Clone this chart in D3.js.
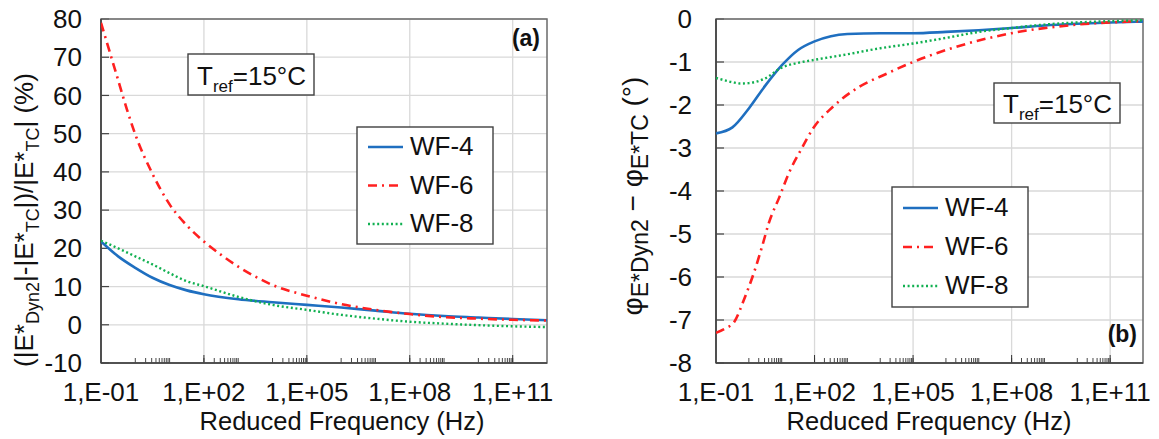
<!DOCTYPE html>
<html><head><meta charset="utf-8">
<script src="https://cdn.jsdelivr.net/npm/d3@7"></script>
<style>
html,body{margin:0;padding:0;background:#fff;}
svg{display:block;font-family:"Liberation Sans",Arial,sans-serif;}
</style></head>
<body>
<svg id="chart" width="1159" height="439"></svg>
<script>
// ---------- data ----------
const seriesNames = ["WF-4", "WF-6", "WF-8"];
const xTickExps = [-1, 2, 5, 8, 11];
const xTickLabels = ["1,E-01", "1,E+02", "1,E+05", "1,E+08", "1,E+11"];
const minorDecades = [0, 2, 4, 6, 8, 10];
const leftYTicks = [-10, 0, 10, 20, 30, 40, 50, 60, 70, 80];
const rightYTicks = [-8, -7, -6, -5, -4, -3, -2, -1, 0];

// (a) modulus difference (%) vs log10 reduced frequency
const magWF4Exp = [-1, -0.5, 0, 0.5, 1, 1.5, 2, 3, 4, 5, 6, 7, 8, 9, 10, 11, 12];
const magWF4 = [21.8, 17.9, 14.9, 12.3, 10.4, 9.0, 8.0, 6.7, 5.9, 5.2, 4.5, 3.7, 2.9, 2.3, 1.9, 1.5, 1.2];
const magWF6Exp = [-1, -0.75, -0.5, -0.25, 0, 0.5, 1, 1.5, 2, 2.5, 3, 3.5, 4, 5, 6, 7, 8, 9, 10, 11, 12];
const magWF6 = [79, 71.5, 64, 56.5, 49.8, 39.5, 31.5, 26.0, 21.8, 18.3, 15.2, 12.6, 10.4, 7.6, 5.4, 3.9, 2.8, 2.0, 1.6, 1.3, 1.1];
const magWF8Exp = [-1, -0.5, 0, 0.5, 1, 1.5, 2, 3, 4, 5, 6, 7, 8, 9, 10, 11, 12];
const magWF8 = [22, 20, 17.9, 15.8, 13.5, 11.4, 10.1, 7.3, 5.2, 3.9, 2.6, 1.6, 0.8, 0.3, -0.1, -0.4, -0.6];

// (b) phase angle difference (deg)
const phWF4Exp = [-1, -0.5, 0, 0.5, 1, 1.5, 2, 2.5, 3, 4, 5, 6, 7, 8, 9, 10, 11, 12];
const phWF4 = [-2.66, -2.52, -2.08, -1.55, -1.08, -0.72, -0.52, -0.40, -0.35, -0.33, -0.33, -0.30, -0.26, -0.21, -0.15, -0.11, -0.08, -0.06];
const phWF6Exp = [-1, -0.7, -0.45, -0.12, 0.15, 0.4, 0.61, 0.92, 1.22, 1.58, 1.95, 2.56, 3.29, 4.2, 5, 6.3, 8, 9.85, 12];
const phWF6 = [-7.30, -7.19, -7.05, -6.47, -5.91, -5.30, -4.74, -4.16, -3.58, -3.05, -2.55, -2.04, -1.61, -1.27, -1.0, -0.65, -0.33, -0.14, -0.05];
const phWF8Exp = [-1, -0.5, -0.25, 0, 0.5, 1, 1.5, 2, 3, 4, 5, 6, 7, 8, 9, 10, 11, 12];
const phWF8 = [-1.37, -1.47, -1.50, -1.49, -1.38, -1.13, -1.02, -0.95, -0.82, -0.68, -0.57, -0.44, -0.30, -0.21, -0.13, -0.08, -0.05, -0.03];

// ---------- styles ----------
const colors = ["#1f6fc0", "#ff2020", "#10b050"];
const dashes = [null, "9,5,2,5", "2,2.6"];
const widths = [2.6, 2.6, 2.4];
const FONT = 26;

const svg = d3.select("#chart");

function zip(ex, v) { return ex.map((e, i) => ({ f: Math.pow(10, e), v: v[i] })); }

function drawPanel(cfg) {
  const g = svg.append("g");
  const x = d3.scaleLog().domain([1e-1, 1e12]).range([cfg.x0, cfg.x1]);
  const y = d3.scaleLinear().domain(cfg.yDomain).range([cfg.y1, cfg.y0]);

  // gridlines
  g.append("g").selectAll("line.h").data(cfg.yTicks).join("line")
    .attr("x1", cfg.x0).attr("x2", cfg.x1)
    .attr("y1", d => y(d)).attr("y2", d => y(d))
    .attr("stroke", "#d9d9d9").attr("stroke-width", 1.3);
  g.append("g").selectAll("line.v").data(xTickExps.slice(1)).join("line")
    .attr("x1", d => x(Math.pow(10, d))).attr("x2", d => x(Math.pow(10, d)))
    .attr("y1", cfg.y0).attr("y2", cfg.y1)
    .attr("stroke", "#d9d9d9").attr("stroke-width", 1.3);

  // minor ticks (inside bottom)
  const minor = [];
  minorDecades.forEach(n => { for (let k = 1; k <= 10; k++) minor.push(k * Math.pow(10, n)); });
  g.append("g").selectAll("line").data(minor).join("line")
    .attr("x1", d => x(d)).attr("x2", d => x(d))
    .attr("y1", cfg.y1).attr("y2", cfg.y1 - 5)
    .attr("stroke", "#333").attr("stroke-width", 0.9);
  g.append("g").selectAll("line").data(xTickExps.slice(1)).join("line")
    .attr("x1", d => x(Math.pow(10, d))).attr("x2", d => x(Math.pow(10, d)))
    .attr("y1", cfg.y1).attr("y2", cfg.y1 - 8)
    .attr("stroke", "#333").attr("stroke-width", 1);
  // y ticks inside left
  g.append("g").selectAll("line").data(cfg.yTicks).join("line")
    .attr("x1", cfg.x0).attr("x2", cfg.x0 + 8)
    .attr("y1", d => y(d)).attr("y2", d => y(d))
    .attr("stroke", "#444").attr("stroke-width", 1.2);

  // frame
  g.append("rect").attr("x", cfg.x0).attr("y", cfg.y0)
    .attr("width", cfg.x1 - cfg.x0).attr("height", cfg.y1 - cfg.y0)
    .attr("fill", "none").attr("stroke", "#6a6a6a").attr("stroke-width", 1.5);
  g.append("line").attr("x1", cfg.x0).attr("x2", cfg.x0).attr("y1", cfg.y0).attr("y2", cfg.y1)
    .attr("stroke", "#404040").attr("stroke-width", 1.6);
  g.append("line").attr("x1", cfg.x0).attr("x2", cfg.x1).attr("y1", cfg.y1).attr("y2", cfg.y1)
    .attr("stroke", "#404040").attr("stroke-width", 1.6);

  // series
  const line = d3.line().x(d => x(d.f)).y(d => y(d.v)).curve(d3.curveMonotoneX);
  const clipId = "clip" + cfg.id;
  svg.append("clipPath").attr("id", clipId).append("rect")
    .attr("x", cfg.x0).attr("y", cfg.y0 - 2).attr("width", cfg.x1 - cfg.x0).attr("height", cfg.y1 - cfg.y0 + 2);
  const sg = g.append("g").attr("clip-path", `url(#${clipId})`);
  cfg.series.forEach((s, i) => {
    sg.append("path").datum(s).attr("d", line)
      .attr("fill", "none").attr("stroke", colors[i]).attr("stroke-width", widths[i])
      .attr("stroke-dasharray", dashes[i]);
  });

  // tick labels
  g.append("g").selectAll("text").data(cfg.yTicks).join("text")
    .attr("x", cfg.yLabelX).attr("y", d => y(d)).attr("dy", "0.35em")
    .attr("text-anchor", "end").attr("font-size", FONT).attr("fill", "#111")
    .text(d => d);
  g.append("g").selectAll("text").data(xTickExps).join("text")
    .attr("x", d => x(Math.pow(10, d))).attr("y", 401)
    .attr("text-anchor", "middle").attr("font-size", FONT).attr("fill", "#111")
    .text((d, i) => xTickLabels[i]);

  // x title
  g.append("text").attr("x", cfg.xTitleX).attr("y", 430)
    .attr("text-anchor", "middle").attr("font-size", 25.5).attr("fill", "#111")
    .text("Reduced Frequency (Hz)");

  // panel label
  g.append("text").attr("x", cfg.labelX).attr("y", cfg.labelY)
    .attr("text-anchor", "end").attr("font-size", 23).attr("font-weight", "bold").attr("fill", "#111")
    .text(cfg.label);

  // Tref box
  const tb = cfg.tref;
  g.append("rect").attr("x", tb.x).attr("y", tb.y).attr("width", tb.w).attr("height", tb.h)
    .attr("fill", "#fff").attr("stroke", "#404040").attr("stroke-width", 1.4);
  const tt = g.append("text").attr("x", tb.x + 9).attr("y", tb.baseline)
    .attr("font-size", FONT).attr("fill", "#111");
  tt.append("tspan").text("T");
  tt.append("tspan").attr("font-size", 17).attr("dy", 7).text("ref");
  tt.append("tspan").attr("dy", -7).text("=15°C");

  // legend
  const lg = cfg.legend;
  g.append("rect").attr("x", lg.x).attr("y", lg.y).attr("width", lg.w).attr("height", lg.h)
    .attr("fill", "#fff").attr("stroke", "#404040").attr("stroke-width", 1.4);
  seriesNames.forEach((name, i) => {
    const cy = lg.y + lg.first + i * lg.step;
    g.append("line").attr("x1", lg.x + 11).attr("x2", lg.x + 46)
      .attr("y1", cy).attr("y2", cy)
      .attr("stroke", colors[i]).attr("stroke-width", widths[i]).attr("stroke-dasharray", dashes[i]);
    g.append("text").attr("x", lg.x + 53).attr("y", cy + 8)
      .attr("font-size", FONT).attr("fill", "#111").text(name);
  });
  return g;
}

drawPanel({
  id: "a", x0: 101, x1: 547, y0: 19, y1: 363, yDomain: [-10, 80], yTicks: leftYTicks,
  yLabelX: 82, xTitleX: 342, label: "(a)", labelX: 540, labelY: 46,
  tref: { x: 188, y: 54, w: 126, h: 41, baseline: 85 },
  legend: { x: 357, y: 127, w: 136, h: 117, first: 20, step: 38.5 },
  series: [zip(magWF4Exp, magWF4), zip(magWF6Exp, magWF6), zip(magWF8Exp, magWF8)]
});
drawPanel({
  id: "b", x0: 716, x1: 1143, y0: 19, y1: 363, yDomain: [-8, 0], yTicks: rightYTicks,
  yLabelX: 692, xTitleX: 929, label: "(b)", labelX: 1137, labelY: 342,
  tref: { x: 994, y: 83, w: 126, h: 40, baseline: 113 },
  legend: { x: 892, y: 187, w: 136, h: 120, first: 21, step: 39 },
  series: [zip(phWF4Exp, phWF4), zip(phWF6Exp, phWF6), zip(phWF8Exp, phWF8)]
});

// y titles
const lt = svg.append("text").attr("transform", "translate(33,220) rotate(-90)")
  .attr("text-anchor", "middle").attr("font-size", FONT).attr("fill", "#111");
lt.append("tspan").text("(|E*");
lt.append("tspan").attr("font-size", 18).attr("dy", 6).text("Dyn2");
lt.append("tspan").attr("dy", -6).text("|-|E*");
lt.append("tspan").attr("font-size", 18).attr("dy", 6).text("TC");
lt.append("tspan").attr("dy", -6).text("|)/|E*");
lt.append("tspan").attr("font-size", 18).attr("dy", 6).text("TC");
lt.append("tspan").attr("dy", -6).text("| (%)");

const rt = svg.append("text").attr("transform", "translate(642,196) rotate(-90)")
  .attr("text-anchor", "middle").attr("font-size", 28).attr("fill", "#111");
rt.append("tspan").text("φ");
rt.append("tspan").attr("font-size", 23).attr("dy", 6).text("E*Dyn2");
rt.append("tspan").attr("dy", -6).text("\u00a0−\u00a0φ");
rt.append("tspan").attr("font-size", 23).attr("dy", 6).text("E*TC");
rt.append("tspan").attr("dy", -6).text(" (°)");
</script>
</body></html>
